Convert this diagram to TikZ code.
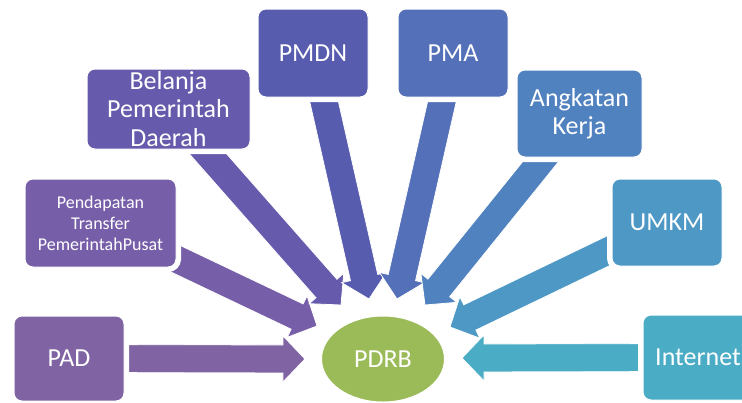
\documentclass[tikz,border=0pt]{standalone}
\usepackage{fontspec}
\setmainfont{Carlito}
\usetikzlibrary{calc,shapes.geometric}
\pgfdeclarelayer{back}
\pgfsetlayers{back,main}

\definecolor{cpad}{RGB}{128,99,162}
\definecolor{cptp}{RGB}{118,94,168}
\definecolor{cbpd}{RGB}{102,90,172}
\definecolor{cpmdn}{RGB}{88,92,175}
\definecolor{cpma}{RGB}{84,112,185}
\definecolor{cak}{RGB}{81,130,192}
\definecolor{cumkm}{RGB}{77,152,197}
\definecolor{cinet}{RGB}{75,172,198}
\definecolor{cpdrb}{RGB}{155,187,89}

\begin{document}
\begin{tikzpicture}[x=1pt,y=-1pt,
    box/.style={rounded corners=8pt, fill=#1, draw=white, line width=1pt, text=white,
        align=center, inner sep=0pt, preaction={draw=white, line width=10pt}},
    big/.style={font=\fontsize{26}{28.5}\selectfont},
    small/.style={font=\fontsize{18}{21}\selectfont},
    flow/.style={fill=#1, draw=white, line width=0.8pt}]
                \useasboundingbox (0,0) rectangle (742,402);
                \clip (0,0) rectangle (742,402);

                % boxes round the centre
                \node [box=cpad, big, minimum width=110pt, minimum height=85pt] (pad) at (69,358.5) {PAD};
                \node [box=cptp, small, minimum width=151pt, minimum height=88pt] (ptp) at (100.5,223) {Pendapatan\\Transfer\\PemerintahPusat};
                \node [box=cbpd, big, minimum width=163pt, minimum height=80pt] (bpd) at (168.5,109) {Belanja\\Pemerintah\\Daerah};
                \node [box=cpmdn, big, minimum width=110pt, minimum height=88pt] (pmdn) at (313,53) {PMDN};
                \node [box=cpma, big, minimum width=110pt, minimum height=88pt] (pma) at (453,53) {PMA};
                \node [box=cak, big, minimum width=125pt, minimum height=87pt] (ak) at (579.5,113.5) {Angkatan\\Kerja};
                \node [box=cumkm, big, minimum width=110pt, minimum height=87pt] (umkm) at (667,222.5) {UMKM};
                \node [box=cinet, big, minimum width=110pt, minimum height=85pt] (inet) at (698,357.5) {Internet};

                \node [ellipse, fill=cpdrb, draw=white, line width=1pt, text=white, big,
                    minimum width=123pt, minimum height=86pt] (pdrb) at (383,359) {PDRB};

                % arrow tips
                \coordinate (tpad) at (305,359);
                \coordinate (tptp) at (317,326);
                \coordinate (tbpd) at (341,305);
                \coordinate (tpmdn) at (369,299);
                \coordinate (tpma) at (397,299);
                \coordinate (tak) at (425,305);
                \coordinate (tumkm) at (450,327);
                \coordinate (tinet) at (462,358);

                \begin{pgfonlayer}{back}
                \foreach \n in {pad,ptp,bpd,pmdn,pma,ak,umkm,inet} {
                    \coordinate (h\n) at ($(t\n)!22pt!(\n.center)$);
                    \draw [flow=c\n] ($(\n.center)!14pt!90:(t\n)$) -- ($(h\n)!14pt!90:(t\n)$)
                        -- ($(h\n)!23pt!90:(t\n)$) -- (t\n) -- ($(h\n)!23pt!-90:(t\n)$)
                        -- ($(h\n)!14pt!-90:(t\n)$) -- ($(\n.center)!14pt!-90:(t\n)$) -- cycle;
                }
                \end{pgfonlayer}
            \end{tikzpicture}
\end{document}
